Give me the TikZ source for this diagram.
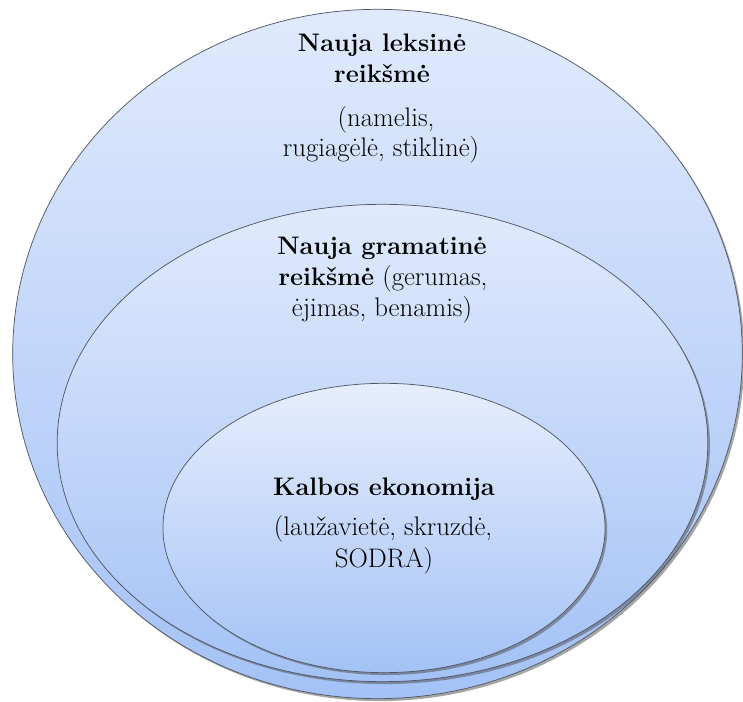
\documentclass[tikz,border=0pt]{standalone}
\usetikzlibrary{shadows}
\definecolor{topc}{RGB}{224,234,252}
\definecolor{botc}{RGB}{164,194,246}
\definecolor{edgec}{RGB}{80,88,100}
\newcommand{\bx}[1]{{\fontsize{19}{22}\selectfont\bfseries #1}}
\tikzset{
  ring/.style={draw=edgec, line width=0.55pt, top color=topc, bottom color=botc,
    drop shadow={shadow xshift=1.6pt, shadow yshift=-1.8pt, opacity=0.5, fill=black!70}},
  lbl/.style={anchor=base, inner sep=0pt, font=\rmfamily\fontsize{20.1}{24}\selectfont},
}
\begin{document}
\begin{tikzpicture}[x=0.75pt,y=-0.75pt]
\useasboundingbox (0,0) rectangle (743,702);
% outer
\path[ring] (377.5,354) ellipse [x radius=273.6pt, y radius=258.5pt];
% middle
\path[ring] (382.5,443) ellipse [x radius=244pt, y radius=179pt];
% inner
\path[ring, top color=topc!80!white] (384,528) ellipse [x radius=165.8pt, y radius=108.5pt];
% outer texts
\node[lbl] (t1) at (382,52) {\bx{Nauja leksinė}};
\node[lbl] (t2) at (382,83) {\bx{reikšmė}};
\node[lbl] (t3) at (386,127) {(namelis,};
\node[lbl] (t4) at (381,157) {rugiagėlė, stiklinė)};
% middle texts
\node[lbl] (m1) at (382,255) {\bx{Nauja gramatinė}};
\node[lbl] (m2) at (383,286) {\bx{reikšmė} (gerumas,};
\node[lbl] (m3) at (382,317) {ėjimas, benamis)};
% inner texts
\node[lbl] (k1) at (384,495) {\bx{Kalbos ekonomija}};
\node[lbl] (k2) at (383,535) {(laužavietė, skruzdė,};
\node[lbl] (k3) at (384,567) {SODRA)};
\end{tikzpicture}
\end{document}
